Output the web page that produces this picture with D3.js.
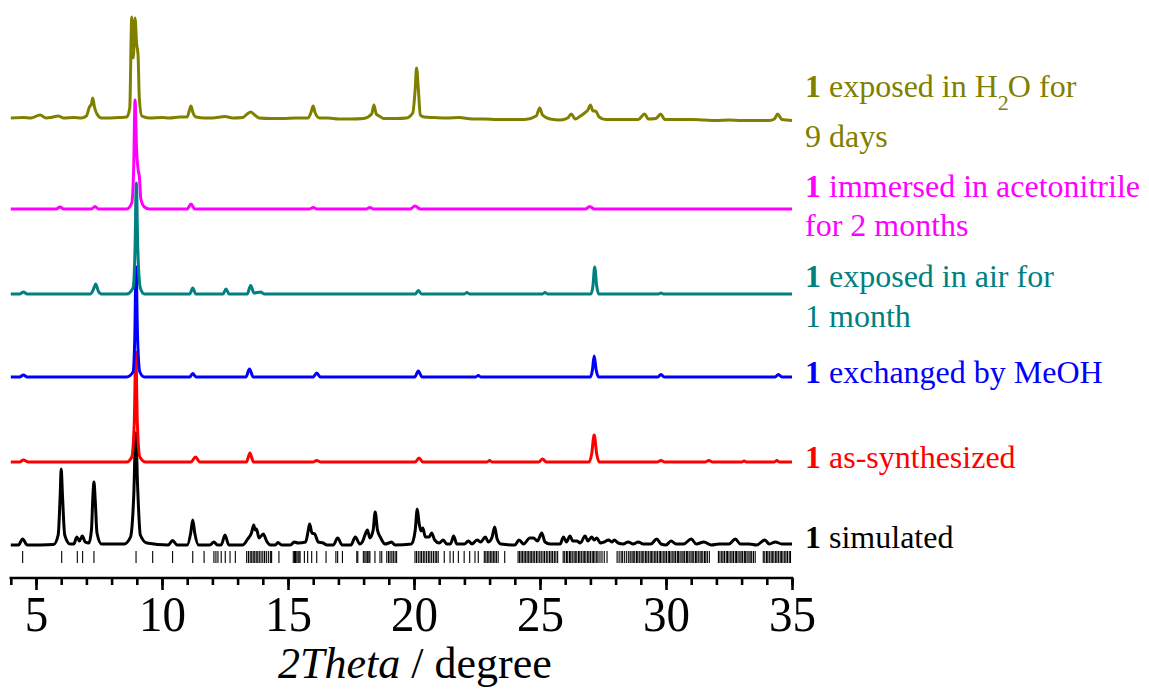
<!DOCTYPE html>
<html>
<head>
<meta charset="utf-8">
<script src="https://cdn.jsdelivr.net/npm/d3@7"></script>
<style>
  html, body { margin: 0; padding: 0; background: #fff; }
  svg { display: block; }
  svg text { font-family: "Liberation Serif", "Times New Roman", serif; }
</style>
</head>
<body>
<svg id="chart" width="1149" height="689"></svg>
<script>
// ---------- DATA (2θ, intensity above each trace's own baseline) ----------
const seriesNames = ["simulated", "as-synthesized", "exchanged by MeOH", "exposed in air", "immersed in acetonitrile", "exposed in H2O"];
const seriesOffsets = [33, 116, 201, 284, 369, 460];

const simulated = [[4,0],[4.3,0],[4.47,6],[4.65,0],[5.7,0.5],[5.88,10],[5.96,50],[6.0,76],[6.05,50],[6.14,10],[6.35,1],
[6.5,1],[6.62,8],[6.72,4],[6.84,9],[6.95,3],[7.1,2],[7.2,15],[7.26,50],[7.30,63],[7.35,45],[7.42,12],[7.6,1],
[8.5,1],[8.75,8],[8.88,50],[8.96,112],[9.03,60],[9.14,10],[9.4,2],[10.25,0],[10.42,4.5],[10.6,0],
[11.0,0],[11.14,12],[11.22,25],[11.3,12],[11.45,0],[11.9,0],[12.06,3],[12.2,0],[12.35,0],[12.5,10],[12.65,0],
[13.2,0],[13.4,6],[13.55,12],[13.64,20],[13.7,15],[13.75,16],[13.85,7],[14.02,11],[14.15,4],[14.3,0],
[14.5,0],[14.6,2.5],[14.75,0],[15.1,0],[15.25,3],[15.4,2],[15.7,3],[15.8,14],[15.86,21],[15.95,12],[16.06,11],[16.2,3],[16.4,2],[16.55,0],
[16.8,0],[16.97,7],[17.15,0],[17.5,0],[17.67,8],[17.85,1],[17.95,3],[18.1,13],[18.15,15],[18.25,7],[18.38,15],[18.46,33],[18.55,15],[18.68,7],[18.85,1],
[19.0,2],[19.1,3],[19.25,0],[19.9,1],[20.05,15],[20.13,36],[20.2,22],[20.28,14],[20.35,17],[20.45,8],[20.6,8],[20.7,12],[20.82,5],[21.0,2],[21.16,5],[21.3,1],
[21.45,1],[21.57,9],[21.7,1],[22.0,1],[22.16,4],[22.3,1],[22.5,5],[22.65,3],[22.83,8],[22.95,3],[23.1,8],[23.2,18],[23.3,6],[23.45,1],
[24.0,0],[24.17,5],[24.35,1],[24.6,7],[24.74,7],[24.9,4],[25.07,12],[25.2,3],[25.4,1],[25.8,1],[25.93,8],[26.05,3],[26.19,9],[26.3,4],[26.46,4],[26.6,2],
[26.79,9],[26.9,4],[27.05,8],[27.15,5],[27.25,7],[27.4,2],[27.55,3],[27.72,5],[27.85,3],[27.95,5],[28.1,2],[28.3,1],[28.5,3],[28.7,1],[28.9,3],[29.1,1],
[29.4,1],[29.63,6],[29.8,1],[30.0,0],[30.2,4],[30.4,1],[30.7,1],[31.0,6],[31.2,1],[31.5,3],[31.8,0],[32.1,1],[32.5,1],[32.75,6],[32.95,1],[33.3,1],
[33.6,0],[33.92,5],[34.1,1],[34.34,3],[34.6,1],[35,1]];

const asSynthesized = [[4,0],[4.35,0],[4.5,2],[4.7,0],[8.6,0],[8.8,5],[8.9,40],[8.96,110],[9.02,40],[9.12,5],[9.35,0],[11.15,0],[11.33,5],[11.5,0],
[13.35,0],[13.49,9],[13.63,0],[16.0,0],[16.14,1.5],[16.3,0],[20.05,0],[20.2,4],[20.35,0],[22.9,0],[23.0,1.5],[23.1,0],[24.95,0],[25.1,3],[25.25,0],
[26.95,0],[27.05,8],[27.15,27],[27.25,8],[27.35,0],[29.65,0],[29.8,1.5],[29.95,0],[31.55,0],[31.7,1.5],[31.85,0],[33.0,0],[33.1,1],[33.2,0],[34.3,0],[34.4,1.5],[34.5,0],[35,0]];

const exchangedMeOH = [[4,0],[4.35,0],[4.5,2],[4.65,0],[8.6,0],[8.85,5],[8.92,40],[8.97,110],[9.03,40],[9.12,5],[9.3,0],[11.1,0],[11.22,3.5],[11.35,0],
[13.33,0],[13.47,8],[13.62,0],[16.0,0],[16.14,4],[16.28,0],[20.03,0],[20.17,6],[20.32,0],[22.45,0],[22.55,1.5],[22.65,0],[27.0,0],[27.08,7],[27.15,21],
[27.23,7],[27.32,0],[29.68,0],[29.8,2.5],[29.93,0],[34.33,0],[34.46,2.5],[34.6,0],[35,0]];

const exposedAir = [[4,0],[4.35,0],[4.5,2],[4.65,0],[7.15,0],[7.27,4],[7.37,10],[7.47,3],[7.6,0],[8.6,0],[8.85,6],[8.93,45],[8.98,111],[9.04,45],[9.14,6],[9.3,0],
[11.1,0],[11.22,6],[11.34,0],[12.42,0],[12.54,5],[12.66,0],[13.38,0],[13.52,8.5],[13.65,1],[13.92,2],[14.05,0],[20.05,0],[20.17,3.5],[20.3,0],
[22.0,0],[22.1,1.5],[22.2,0],[25.1,0],[25.2,1.5],[25.3,0],[27.02,0],[27.1,8],[27.17,27],[27.25,8],[27.33,0],[29.7,0],[29.8,1],[29.9,0],[35,0]];

const immersedMeCN = [[4,0],[5.8,0],[5.95,2],[6.1,0],[7.2,0],[7.34,2.5],[7.48,0],[8.6,0],[8.8,6],[8.88,45],[8.93,109],[8.99,60],[9.06,38],[9.1,33],[9.16,10],
[9.3,2],[9.5,0],[11.0,0],[11.15,5],[11.3,0],[15.85,0],[16.0,1.5],[16.15,0],[18.1,0],[18.25,1.5],[18.4,0],[19.85,0],[20.04,3],[20.25,0],[26.8,0],[26.98,2.5],[27.15,0],[35,0]];

const exposedH2O = [[4,0],[4.5,0.5],[4.8,0],[5.16,3],[5.4,0],[5.6,0.5],[5.88,2],[6.1,0],[6.5,0.5],[6.8,0],[7.0,2],[7.12,11],[7.2,14],[7.25,20],[7.32,11],[7.42,4],[7.6,0],
[8.3,0.5],[8.6,1],[8.72,10],[8.8,101],[8.86,60],[8.93,100],[8.99,75],[9.05,63],[9.1,20],[9.2,2],[9.5,0],[10.0,0.5],[10.3,0],[10.7,1],[11.0,1],[11.08,7],[11.15,12],
[11.22,6],[11.35,1],[11.7,0],[12.0,0],[12.5,1.5],[12.8,0],[13.2,0.5],[13.38,4],[13.52,6],[13.68,3],[13.85,0],[14.3,-0.5],[14.8,-0.5],[15.3,0],[15.8,0],[15.92,6],
[16.0,12],[16.08,5],[16.25,0],[16.6,0],[17.0,-1],[17.5,-1],[18.0,-0.5],[18.32,4],[18.41,13],[18.5,4],[18.62,2],[18.8,-0.5],[19.3,-0.5],[19.7,0],[19.95,5],
[20.05,30],[20.1,50],[20.17,30],[20.25,3],[20.4,1],[20.8,0.5],[21.3,0],[21.8,0.5],[22.3,-1],[22.8,-1],[23.3,-1.5],[23.8,-1.5],[24.4,-1.5],[24.85,2],[24.99,10],
[25.1,3],[25.4,-1],[25.8,-2],[26.1,0],[26.24,4],[26.4,-1],[26.6,2],[26.77,5],[26.9,8],[27.0,13],[27.1,7],[27.2,7],[27.35,1],[27.6,-1.5],[28.2,-1.5],[28.9,-1.5],
[29.15,4],[29.3,-1],[29.6,-0.5],[29.79,4],[29.95,-1.5],[30.5,-1.5],[31.0,-1.5],[31.5,-2],[32.0,-2.5],[32.5,-2],[33.0,-2.5],[33.5,-2.5],[34.1,-2.5],[34.3,-1],
[34.43,4],[34.6,-1.5],[35,-2.5]];

// calculated reflection positions (2θ) drawn as sticks below the simulated pattern
const reflections = [4.47,6.02,6.64,6.85,7.30,8.97,9.63,10.42,11.22,11.67,12.06,12.14,12.22,12.35,12.51,12.70,12.91,
13.36,13.43,13.50,13.56,13.62,13.68,13.74,13.80,13.86,13.93,14.00,14.07,14.14,14.22,14.30,14.35,14.64,
15.21,15.26,15.30,15.35,15.40,15.44,15.48,15.65,15.78,15.94,16.14,16.51,16.90,16.97,17.16,17.73,17.77,
17.99,18.05,18.10,18.16,18.21,18.25,18.45,18.65,18.72,18.92,18.99,19.05,19.12,19.18,19.25,19.31,
20.04,20.10,20.17,20.24,20.30,20.37,20.43,20.50,20.57,20.63,20.70,20.77,20.84,20.90,20.96,21.20,21.43,21.56,21.76,21.99,
22.21,22.42,22.55,22.79,22.85,22.91,22.97,23.03,23.09,23.15,23.21,23.27,23.34,23.60,
24.13,24.19,24.25,24.31,24.37,24.43,24.49,24.55,24.61,24.67,24.73,24.79,24.86,24.92,24.99,25.05,25.12,25.18,25.25,25.31,25.38,25.44,25.50,25.57,25.63,25.70,
25.92,25.98,26.05,26.10,26.17,26.22,26.28,26.35,26.40,26.46,26.53,26.58,26.64,26.71,26.76,26.82,26.89,26.94,27.00,27.07,27.12,27.18,27.25,27.30,27.38,27.46,27.55,27.66,
28.06,28.14,28.22,28.28,28.36,28.44,28.52,28.58,28.65,28.70,28.76,28.83,28.88,28.94,29.01,29.06,29.12,29.19,29.24,29.30,29.37,29.42,29.48,29.55,29.60,29.66,
29.73,29.78,29.84,29.91,29.96,30.02,30.09,30.14,30.20,30.27,30.32,30.38,30.45,30.50,30.56,30.63,30.68,30.74,30.81,30.86,30.92,30.99,31.04,31.10,31.17,31.22,
31.28,31.35,31.40,31.46,31.53,31.58,31.64,31.72,32.08,32.14,32.21,32.26,32.32,32.39,32.44,32.50,32.57,32.62,32.68,32.75,32.80,32.86,32.93,32.98,33.04,
33.11,33.16,33.22,33.29,33.34,33.40,33.47,33.54,33.86,33.92,33.99,34.04,34.10,34.17,34.22,34.28,34.35,34.40,34.46,34.53,34.58,34.64,34.71,34.76,34.82,34.89,34.94];

const xTickValues = [5, 10, 15, 20, 25, 30, 35];
const xMinorTicks = [4,5,6,7,8,9,10,11,12,13,14,15,16,17,18,19,20,21,22,23,24,25,26,27,28,29,30,31,32,33,34,35];

const seriesColors = ["#000000", "#FF0000", "#0000FF", "#008080", "#FF00FF", "#808000"];
const seriesData = [simulated, asSynthesized, exchangedMeOH, exposedAir, immersedMeCN, exposedH2O];

const labelLines = [
  [{b:"1", t:" simulated"}],
  [{b:"1", t:" as-synthesized"}],
  [{b:"1", t:" exchanged by MeOH"}],
  [{b:"1", t:" exposed in air for"}, {t:"1 month"}],
  [{b:"1", t:" immersed in acetonitrile"}, {t:"for 2 months"}],
  [{b:"1", t:" exposed in H", sub:"2", t2:"O for"}, {t:"9 days"}]
];
const labelBaselines = [[548],[468],[383],[287,327],[197,236],[97,147]];

// ---------- CHART ----------
const FONT = "'Liberation Serif', 'Times New Roman', serif";
const svg = d3.select("#chart");
const x = d3.scaleLinear().domain([4, 35]).range([10.8, 792]);
const y = d3.scaleLinear().domain([0, 578]).range([578, 0]);

// reflection sticks
svg.append("g").selectAll("line").data(reflections).join("line")
  .attr("x1", d => x(d)).attr("x2", d => x(d))
  .attr("y1", 551).attr("y2", 563)
  .attr("stroke", "#000").attr("stroke-width", 1.1);

// traces
const line = d3.line().curve(d3.curveMonotoneX);
seriesData.forEach((data, i) => {
  const off = seriesOffsets[i];
  svg.append("path")
    .attr("d", line(data.map(d => [x(d[0]), y(d[1] + off)])))
    .attr("fill", "none")
    .attr("stroke", seriesColors[i])
    .attr("stroke-width", 3)
    .attr("stroke-linejoin", "round");
});

// x axis
const axisG = svg.append("g").attr("transform", "translate(0,578)");
axisG.call(d3.axisBottom(x).tickValues(xMinorTicks).tickSize(7).tickFormat(""));
axisG.call(g => g.selectAll(".tick line").attr("stroke-width", 2.6));
axisG.select(".domain").remove();
axisG.append("line").attr("x1", 9.5).attr("x2", 793.3).attr("y1", 0).attr("y2", 0)
  .attr("stroke", "#000").attr("stroke-width", 2.6);

const majorG = svg.append("g").attr("transform", "translate(0,578)");
majorG.call(d3.axisBottom(x).tickValues(xTickValues).tickSize(12).tickFormat(d3.format("d")));
majorG.select(".domain").remove();
majorG.attr("font-family", FONT);
majorG.selectAll(".tick line").attr("stroke-width", 2.6);
majorG.selectAll(".tick text")
  .attr("y", 0).attr("dy", 0)
  .attr("transform", "translate(0,53) scale(1,1.08)")
  .attr("font-family", FONT)
  .style("font-size", "47px").attr("fill", "#000");

// axis title
const title = svg.append("text").attr("x", 278).attr("y", 678)
  .attr("font-family", FONT)
  .style("font-size", "44px").attr("fill", "#000");
title.append("tspan").style("font-style", "italic").text("2Theta");
title.append("tspan").text(" / degree");

// labels
labelLines.forEach((lines, i) => {
  lines.forEach((ln, j) => {
    const t = svg.append("text").attr("x", 805).attr("y", labelBaselines[i][j])
      .attr("font-family", FONT)
      .style("font-size", "32px").attr("fill", seriesColors[i]);
    if (ln.b) t.append("tspan").style("font-weight", "bold").text(ln.b);
    t.append("tspan").text(ln.t);
    if (ln.sub) {
      t.append("tspan").attr("dy", 13).style("font-size", "22px").text(ln.sub);
      t.append("tspan").attr("dy", -13).attr("dx", -1).text(ln.t2);
    }
  });
});
</script>
</body>
</html>
